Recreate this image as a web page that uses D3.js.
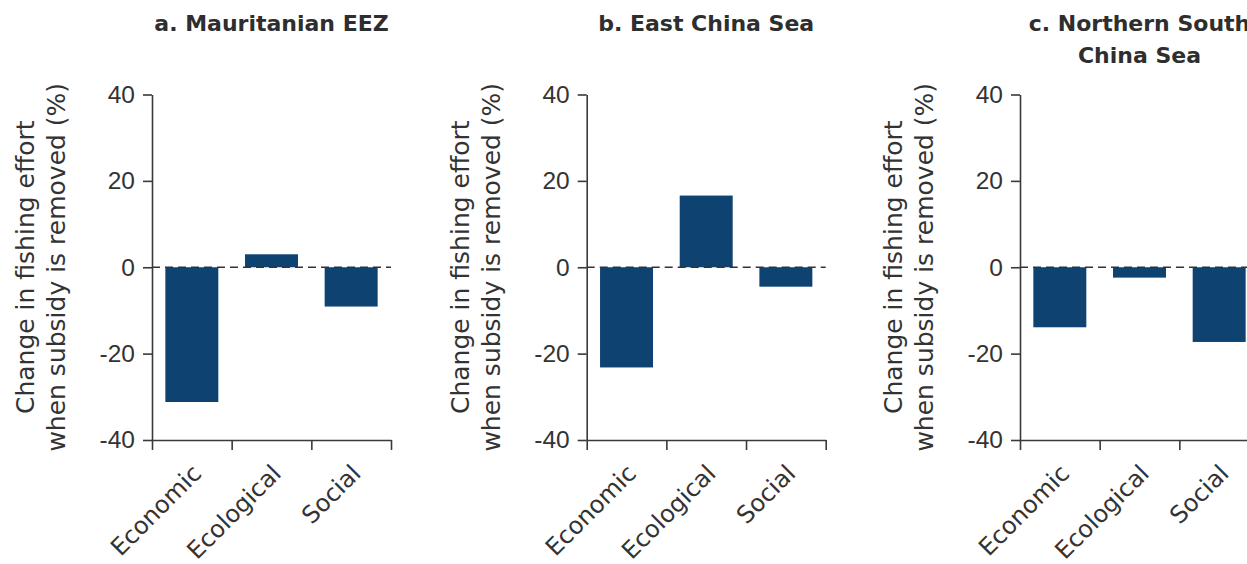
<!DOCTYPE html>
<html>
<head>
<meta charset="utf-8">
<script src="https://cdnjs.cloudflare.com/ajax/libs/d3/7.8.5/d3.min.js"></script>
<style>
    body { margin: 0; background: #fff; }
    svg { display: block; font-family: "DejaVu Sans", sans-serif; }
    .axis path, .axis line { stroke: #3a3a3a; stroke-width: 1.6; }
    .axis text { fill: #333; }
</style>
</head>
<body>
<script>
var categories = ['Economic', 'Ecological', 'Social'];
var panelTitles = [
    ['a. Mauritanian EEZ'],
    ['b. East China Sea'],
    ['c. Northern South', 'China Sea']
];
var mauritanian = [-31.2, 3.0, -9.1];
var eastChina = [-23.2, 16.6, -4.5];
var northSouthChina = [-13.9, -2.4, -17.3];
var yTicks = [-40, -20, 0, 20, 40];
var yTitle = ['Change in fishing effort', 'when subsidy is removed (%)'];

var series = [mauritanian, eastChina, northSouthChina];

var width = 1247,
    height = 564,
    panelLefts = [152, 586.7, 1020],
    plotWidth = 239,
    plotTop = 94.5,
    plotBottom = 440;

var svg = d3.select('body').append('svg')
    .attr('width', width)
    .attr('height', height);

var yScale = d3.scaleLinear()
    .domain([-40, 40])
    .range([plotBottom, plotTop]);

series.forEach(function(values, p) {
    var left = panelLefts[p],
        g = svg.append('g')
            .attr('transform', 'translate(' + left + ',0)'),
        band = d3.scaleBand()
            .domain(categories)
            .range([0, plotWidth])
            .paddingInner(0.335)
            .paddingOuter(0.1675),
        edges = d3.scaleLinear()
            .domain([0, categories.length])
            .range([0, plotWidth]);

    // panel title
    g.append('text')
        .attr('x', plotWidth / 2)
        .attr('y', 30.7)
        .attr('text-anchor', 'middle')
        .style('font-size', '22px')
        .style('font-weight', 'bold')
        .style('fill', '#2e2e2e')
        .selectAll('tspan')
        .data(panelTitles[p])
        .enter()
        .append('tspan')
        .attr('x', plotWidth / 2)
        .attr('dy', function(d, i) { return i ? 32.6 : 0; })
        .text(function(d) { return d; });

    // y axis title, two lines
    g.selectAll('.ytitle')
        .data(yTitle)
        .enter()
        .append('text')
        .attr('class', 'ytitle')
        .attr('transform', function(d, i) {
            return 'translate(' + (-118 + i * 31) + ',' + ((plotTop + plotBottom) / 2) + ') rotate(-90)';
        })
        .attr('text-anchor', 'middle')
        .style('font-size', '25px')
        .style('fill', '#333')
        .text(function(d) { return d; });

    // bars
    g.selectAll('.bar')
        .data(values)
        .enter()
        .append('rect')
        .attr('class', 'bar')
        .attr('x', function(d, i) { return band(categories[i]); })
        .attr('width', band.bandwidth())
        .attr('y', function(d) { return yScale(Math.max(0, d)); })
        .attr('height', function(d) { return Math.abs(yScale(d) - yScale(0)); })
        .style('fill', '#0e4371');

    // dashed zero line
    g.append('line')
        .attr('x1', 0)
        .attr('x2', plotWidth)
        .attr('y1', yScale(0))
        .attr('y2', yScale(0))
        .style('stroke', '#333')
        .style('stroke-width', 1.7)
        .style('stroke-dasharray', '8,5');

    // y axis
    g.append('g')
        .attr('class', 'axis')
        .call(d3.axisLeft(yScale)
            .tickValues(yTicks)
            .tickSize(9)
            .tickSizeOuter(0)
            .tickPadding(8)
            .tickFormat(function(d) { return d < 0 ? '-' + Math.abs(d) : d; }))
        .selectAll('text')
        .style('font-size', '24.5px');

    // x axis, ticks at band edges
    g.append('g')
        .attr('class', 'axis')
        .attr('transform', 'translate(0,' + plotBottom + ')')
        .call(d3.axisBottom(edges)
            .tickValues(d3.range(categories.length + 1))
            .tickSize(10)
            .tickSizeOuter(0)
            .tickFormat(''));

    // rotated category labels
    g.selectAll('.xlabel')
        .data(categories)
        .enter()
        .append('text')
        .attr('class', 'xlabel')
        .attr('transform', function(d) {
            return 'translate(' + (band(d) + band.bandwidth() / 2 + 11) + ',' + (plotBottom + 35) + ') rotate(-45)';
        })
        .attr('text-anchor', 'end')
        .style('font-size', '24px')
        .style('fill', '#333')
        .text(function(d) { return d; });
});
</script>
</body>
</html>
